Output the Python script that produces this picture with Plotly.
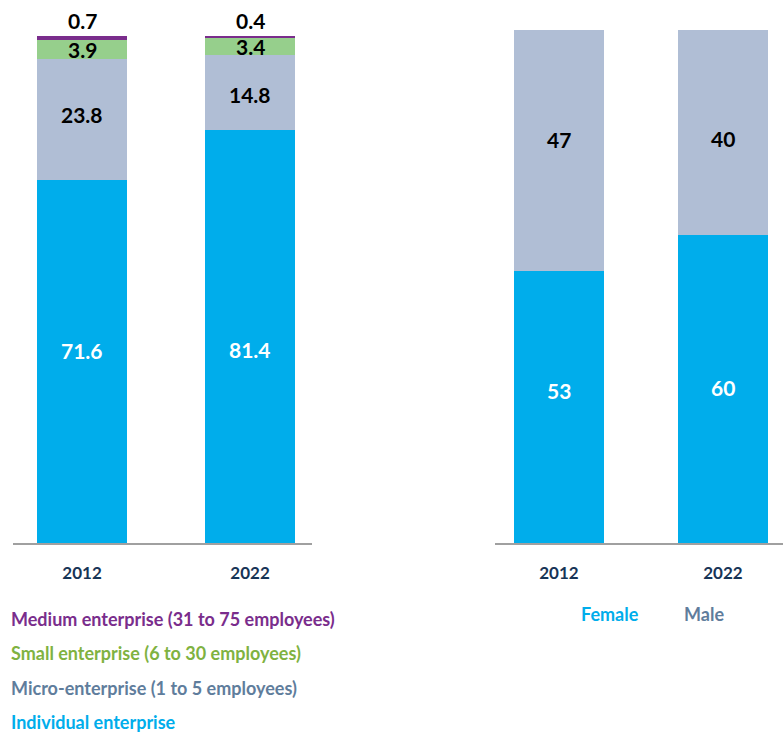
import plotly.graph_objects as go

# Enterprise size shares (%) by year
years = ["2012", "2022"]
size_labels = [
    "Individual enterprise",
    "Micro-enterprise (1 to 5 employees)",
    "Small enterprise (6 to 30 employees)",
    "Medium enterprise (31 to 75 employees)",
]
individual = [71.6, 81.4]
micro = [23.8, 14.8]
small = [3.9, 3.4]
medium = [0.7, 0.4]

# Sex shares (%) by year
sex_labels = ["Female", "Male"]
female = [53, 60]
male = [47, 40]

size_colors = ["#00adeb", "#b0bed5", "#96cf8c", "#7a2d8c"]
size_text_colors = ["#00adeb", "#5f7d9c", "#7fb241", "#7a2d8c"]
sex_colors = ["#00adeb", "#b0bed5"]
sex_text_colors = ["#00adeb", "#5f7d9c"]

W, H = 783, 733
FONT = "Lato"
AXIS_NAVY = "#173456"

# vertical nudges (px) for in-bar labels so rows of labels line up
size_label_shift = [[11, -13], [5, -2], [0, 0], [0, 0]]
sex_label_shift = [[17, 2], [11, -6]]

fig = go.Figure()

size_series = [individual, micro, small, medium]
for name, vals, col in zip(size_labels, size_series, size_colors):
    fig.add_trace(go.Bar(x=years, y=vals, name=name, marker=dict(color=col, line=dict(width=0)),
                         width=0.536, xaxis="x", yaxis="y", hoverinfo="skip"))

for name, vals, col in zip(sex_labels, [female, male], sex_colors):
    fig.add_trace(go.Bar(x=years, y=vals, name=name, marker=dict(color=col, line=dict(width=0)),
                         width=0.549, xaxis="x2", yaxis="y2", hoverinfo="skip"))

annotations = []

# value labels for enterprise size stacks (x given as category index)
for i, yr in enumerate(years):
    base = 0.0
    for k, vals in enumerate(size_series):
        v = vals[i]
        txt = f"{v:.1f}"
        col = "white" if k == 0 else "black"
        if k == len(size_series) - 1:
            top = min(round(base + v, 6), 100.0)
            annotations.append(dict(x=i, y=top, xref="x", yref="y", text=f"<b>{txt}</b>",
                                    showarrow=False, yanchor="bottom", yshift=1,
                                    font=dict(family=FONT, size=21, color=col)))
        else:
            annotations.append(dict(x=i, y=base + v / 2, xref="x", yref="y", text=f"<b>{txt}</b>",
                                    showarrow=False, yanchor="middle",
                                    yshift=size_label_shift[k][i],
                                    font=dict(family=FONT, size=21, color=col)))
        base += v

# value labels for sex stacks
for i, yr in enumerate(years):
    base = 0.0
    for k, vals in enumerate([female, male]):
        v = vals[i]
        col = "white" if k == 0 else "black"
        annotations.append(dict(x=i, y=base + v / 2, xref="x2", yref="y2", text=f"<b>{v}</b>",
                                showarrow=False, yanchor="middle",
                                yshift=sex_label_shift[k][i],
                                font=dict(family=FONT, size=21, color=col)))
        base += v

# colored text legend, enterprise size (top to bottom: medium ... individual)
legend_rows = list(zip(size_labels, size_text_colors))[::-1]
for j, (name, col) in enumerate(legend_rows):
    annotations.append(dict(x=9 / W, y=1 - (619 + 34.3 * j) / H, xref="paper", yref="paper",
                            text=f"<b>{name}</b>", showarrow=False, xanchor="left", yanchor="middle",
                            font=dict(family=FONT, size=18, color=col)))

# colored text legend, sex
for name, col, px in zip(sex_labels, sex_text_colors, [579, 682]):
    annotations.append(dict(x=px / W, y=1 - 614 / H, xref="paper", yref="paper",
                            text=f"<b>{name}</b>", showarrow=False, xanchor="left", yanchor="middle",
                            font=dict(family=FONT, size=18, color=col)))

axis_bottom = 1 - 543 / H
xaxis_common = dict(type="category", showgrid=False, zeroline=False, showline=True,
                    linecolor="#a0a0a0", linewidth=1.5, ticks="", ticklabelstandoff=14,
                    tickfont=dict(family=FONT, size=17, color=AXIS_NAVY, weight="bold"),
                    fixedrange=True)
yaxis_common = dict(range=[0, 100], showgrid=False, zeroline=False, showline=False,
                    showticklabels=False, ticks="", fixedrange=True)

fig.update_layout(
    width=W, height=H,
    margin=dict(l=0, r=0, t=0, b=0),
    paper_bgcolor="white", plot_bgcolor="white",
    barmode="stack", showlegend=False,
    xaxis=dict(domain=[13 / W, 312 / W], range=[-0.411, 1.369], anchor="y", **xaxis_common),
    yaxis=dict(domain=[axis_bottom, 1 - 36 / H], anchor="x", **yaxis_common),
    xaxis2=dict(domain=[495 / W, 1.0], range=[-0.390, 1.366], anchor="y2", **xaxis_common),
    yaxis2=dict(domain=[axis_bottom, 1 - 30 / H], anchor="x2", **yaxis_common),
    annotations=annotations,
    font=dict(family=FONT),
)

fig.write_html("out.html")
